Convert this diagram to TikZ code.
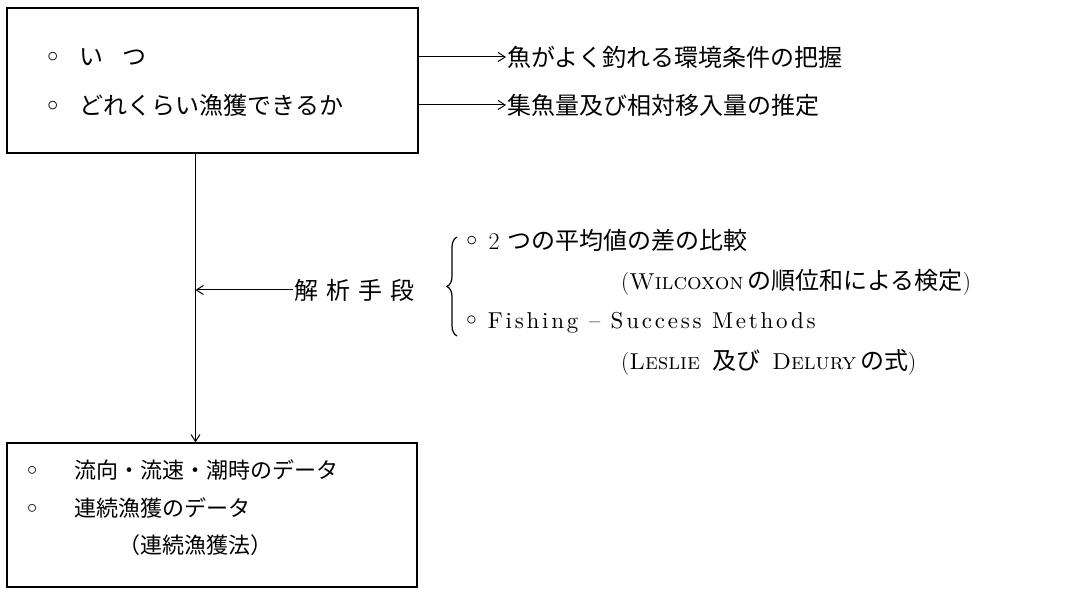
\documentclass[tikz,border=0pt]{standalone}
\usepackage{fontspec}
\newfontfamily\jp{Noto Sans CJK JP}
\newfontfamily\dvs{DejaVu Sans}
\newfontfamily\spaced{lmroman10-regular}[Extension=.otf, LetterSpace=12]
\usetikzlibrary{arrows.meta,decorations.pathreplacing,positioning}
\newcommand{\openbul}{{\dvs\bfseries ◦}}
\tikzset{
  frame/.style={draw, line width=1.3pt, inner sep=0pt},
  item/.style={anchor=west, inner sep=1pt, font=\jp\fontsize{24}{28}\selectfont},
  small item/.style={item, font=\jp\fontsize{22}{26}\selectfont},
  latin/.style={anchor=west, inner sep=1pt, font=\fontsize{23}{27}\selectfont},
  link/.style={->, line width=1pt},
}
\begin{document}
\begin{tikzpicture}[x=1pt, y=-1pt, >={Straight Barb[length=7pt,width=9pt]}]
\useasboundingbox (0,0) rectangle (1074,593);
% what we want to know
\node[frame, minimum width=411pt, minimum height=145pt] (topbox) at (212.5,80.5) {};
\node[item] (when) at (44,57) {\openbul\hspace{19pt}い\hspace{19pt}つ};
\node[item] (howmuch) at (44,105) {\openbul\hspace{19pt}どれくらい漁獲できるか};
\node[item] (env) at (506,57) {魚がよく釣れる環境条件の把握};
\node[item] (stock) at (506,105) {集魚量及び相対移入量の推定};
\draw[link] (topbox.east |- env) -- (env.west);
\draw[link] (topbox.east |- stock) -- (stock.west);

% data we have
\node[frame, minimum width=410pt, minimum height=144pt] (botbox) at (212,515) {};
\node[small item] (flow) at (24,470) {\openbul\hspace{35pt}流向・流速・潮時のデータ};
\node[small item] (catch) at (24,508) {\openbul\hspace{35pt}連続漁獲のデータ};
\node[small item] (method) at (117,545) {（連続漁獲法）};

\coordinate (spine) at ([xshift=-17pt]topbox.south);
\draw[link] (spine) -- (spine |- botbox.north);

% analysis
\node[item] (means) at (293,290) {解\hspace{8pt}析\hspace{8pt}手\hspace{8pt}段};
\draw[link] (means.west) -- (means.west -| spine);
\node[item] (compare) at (463,240) {\openbul\hspace{9pt}{\rmfamily 2}\hspace{8pt}つの平均値の差の比較};
\node[latin] (wilcoxon) at (620,282) {(\textsc{Wilcoxon}\hspace{4pt}{\jp\fontsize{24}{28}\selectfont の順位和による検定})};
\node[latin] (fishing) at (463,323) {\openbul\hspace{9pt}{\spaced Fishing – Success Methods}};
\node[latin] (leslie) at (620,362) {(\textsc{Leslie}\hspace{12pt}{\jp\fontsize{24}{28}\selectfont 及び}\hspace{12pt}\textsc{Delury}\hspace{4pt}{\jp\fontsize{24}{28}\selectfont の式})};
\draw[line width=1.2pt, decorate, decoration={brace, amplitude=10pt}]
  ([xshift=-6pt,yshift=-13pt]fishing.west) -- ([xshift=-6pt,yshift=3pt]compare.west);
\end{tikzpicture}
\end{document}
